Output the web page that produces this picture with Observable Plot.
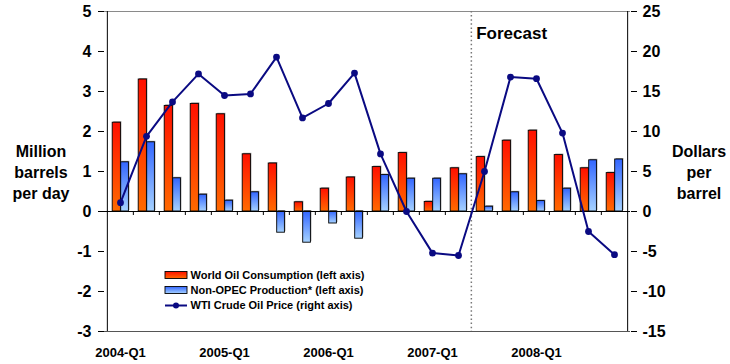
<!DOCTYPE html>
<html>
<head>
<meta charset="utf-8">
<script src="https://cdn.jsdelivr.net/npm/d3@7"></script>
<script src="https://cdn.jsdelivr.net/npm/@observablehq/plot@0.6"></script>
<style>
  body { margin: 0; background: #fff; }
  svg { display: block; }
</style>
</head>
<body>
<div id="chart"></div>
<script>
// Quarterly changes, 2004-Q1 .. 2008-Q4
const quarters = [
  "2004-Q1","2004-Q2","2004-Q3","2004-Q4",
  "2005-Q1","2005-Q2","2005-Q3","2005-Q4",
  "2006-Q1","2006-Q2","2006-Q3","2006-Q4",
  "2007-Q1","2007-Q2","2007-Q3","2007-Q4",
  "2008-Q1","2008-Q2","2008-Q3","2008-Q4"
];
// Million barrels per day (left axis)
const consumption = [2.22, 3.30, 2.64, 2.69, 2.43, 1.43, 1.20, 0.23, 0.57, 0.85,
                     1.11, 1.46, 0.24, 1.08, 1.36, 1.77, 2.02, 1.41, 1.08, 0.96];
const nonOpec     = [1.23, 1.73, 0.83, 0.42, 0.27, 0.48, -0.53, -0.78, -0.30, -0.68,
                     0.91, 0.82, 0.82, 0.93, 0.12, 0.48, 0.26, 0.57, 1.28, 1.30];
// Dollars per barrel (right axis)
const wtiPrice    = [1.1, 9.4, 13.7, 17.2, 14.5, 14.7, 19.3, 11.7, 13.5, 17.3,
                     7.2, 0.0, -5.2, -5.5, 5.0, 16.8, 16.6, 9.8, -2.5, -5.4];

const leftTicks  = [-3, -2, -1, 0, 1, 2, 3, 4, 5];
const rightTicks = [-15, -10, -5, 0, 5, 10, 15, 20, 25];
const xTickLabels = ["2004-Q1", "2005-Q1", "2006-Q1", "2007-Q1", "2008-Q1"];
const forecastStart = "2007-Q3";
const priceScale = 5; // dollars per left-axis unit

const legendItems = [
  "World Oil Consumption (left axis)",
  "Non-OPEC Production* (left axis)",
  "WTI Crude Oil Price (right axis)"
];

const rows = quarters.map((q, i) => ({
  q, cons: consumption[i], nonOpec: nonOpec[i], price: wtiPrice[i]
}));

const W = 730, H = 364;
const mL = 104, mR = 100, mT = 11, mB = 33;
const bw = (W - mL - mR) / quarters.length;
const half = bw / 2;
const FONT = "'Liberation Sans', Arial, Helvetica, sans-serif";
const NAVY = "#0a0a82";

const chart = Plot.plot({
  width: W,
  height: H,
  marginLeft: mL,
  marginRight: mR,
  marginTop: mT,
  marginBottom: mB,
  style: { fontFamily: FONT, fontWeight: "bold", color: "#000", background: "#fff" },
  x: { type: "band", domain: quarters, padding: 0, axis: null },
  y: { domain: [-3, 5], axis: null },
  marks: [
    // frame lines
    Plot.ruleY([5], { stroke: "#8a8a8a" }),
    Plot.ruleY([-3], { stroke: "#555" }),
    Plot.ruleX([forecastStart], { dx: -half, stroke: "#777", strokeWidth: 1.5, strokeDasharray: "1.5 2.6" }),
    // bar shadows
    Plot.barY(rows, { x: "q", y1: 0, y2: "cons", insetLeft: 5.2, insetRight: 12.6, fill: "#9a9a9a", dx: 1, dy: -1 }),
    Plot.barY(rows, { x: "q", y1: 0, y2: "nonOpec", insetLeft: 13.7, insetRight: 4.6, fill: "#9a9a9a", dx: 1, dy: -1 }),
    // bars
    Plot.barY(rows, { x: "q", y1: 0, y2: "cons", insetLeft: 5.2, insetRight: 12.6,
      fill: "url(#gradRed)", stroke: "#000", strokeWidth: 0.9 }),
    Plot.barY(rows, { x: "q", y1: 0, y2: "nonOpec", insetLeft: 13.7, insetRight: 4.6,
      fill: "url(#gradBlue)", stroke: "#000", strokeWidth: 0.9 }),
    // zero line with quarter separators
    Plot.ruleY([0], { stroke: "#000" }),
    Plot.ruleX(quarters.slice(1), { x: d => d, y1: 0, y2: -0.1, dx: -half, stroke: "#000" }),
    // left and right axis lines
    Plot.ruleX([quarters[0]], { dx: -half, stroke: "#000" }),
    Plot.ruleX([quarters[quarters.length - 1]], { dx: half, stroke: "#000" }),
    // price line
    Plot.line(rows, { x: "q", y: d => d.price / priceScale, stroke: NAVY, strokeWidth: 2 }),
    Plot.dot(rows, { x: "q", y: d => d.price / priceScale, r: 3.4, fill: NAVY, stroke: "none" }),
    // axes
    Plot.axisY({ anchor: "left", ticks: leftTicks, tickFormat: d => String(d),
      tickSize: 6, tickPadding: 7, fontSize: 16, label: null }),
    Plot.axisY({ anchor: "right", ticks: rightTicks.map(d => d / priceScale),
      tickFormat: d => String(Math.round(d * priceScale)), tickSize: 6, tickPadding: 6, fontSize: 16, label: null }),
    Plot.axisX({ ticks: xTickLabels, tickSize: 0, tickPadding: 16, fontSize: 13, label: null }),
    // forecast annotation
    Plot.text(["Forecast"], { x: () => forecastStart, frameAnchor: "top", dx: -8.3, dy: 22,
      textAnchor: "start", lineAnchor: "middle", fontSize: 17, fontWeight: "bold", fill: "#000" })
  ]
});

const svg = d3.select(chart);

// bar gradients
const defs = svg.insert("defs", ":first-child");
function gradient(id, top, bottom) {
  const g = defs.append("linearGradient").attr("id", id)
    .attr("x1", 0).attr("y1", 0).attr("x2", 0).attr("y2", 1);
  g.append("stop").attr("offset", "0%").attr("stop-color", top);
  g.append("stop").attr("offset", "100%").attr("stop-color", bottom);
}
gradient("gradRed", "#ff1000", "#ff6a00");
gradient("gradBlue", "#3366ff", "#a6d2ff");

// axis titles
function titleLines(x, ys, lines) {
  const t = svg.append("text")
    .attr("text-anchor", "middle")
    .attr("font-family", FONT)
    .attr("font-weight", "bold")
    .attr("font-size", 16)
    .attr("fill", "#000");
  lines.forEach((s, i) => t.append("tspan").attr("x", x).attr("y", ys[i]).attr("dy", "0.35em").text(s));
}
titleLines(41, [151, 172, 193], ["Million", "barrels", "per day"]);
titleLines(699, [151, 172, 193], ["Dollars", "per", "barrel"]);

// legend
const lg = svg.append("g")
  .attr("font-family", FONT).attr("font-weight", "bold").attr("font-size", 11)
  .attr("text-anchor", "start");
const legendY = [275, 290, 305.5];
lg.append("rect").attr("x", 165).attr("y", legendY[0] - 3.5).attr("width", 22).attr("height", 7)
  .attr("fill", "url(#gradRed)").attr("stroke", "#000").attr("stroke-width", 0.9);
lg.append("rect").attr("x", 165).attr("y", legendY[1] - 3.5).attr("width", 22).attr("height", 7)
  .attr("fill", "url(#gradBlue)").attr("stroke", "#000").attr("stroke-width", 0.9);
lg.append("line").attr("x1", 165).attr("x2", 187).attr("y1", legendY[2]).attr("y2", legendY[2])
  .attr("stroke", NAVY).attr("stroke-width", 2);
lg.append("circle").attr("cx", 176).attr("cy", legendY[2]).attr("r", 3).attr("fill", NAVY);
legendItems.forEach((s, i) => {
  lg.append("text").attr("x", 190.5).attr("y", legendY[i]).attr("dy", "0.35em")
    .attr("text-anchor", "start").attr("fill", "#000").text(s);
});

document.getElementById("chart").appendChild(chart);
</script>
</body>
</html>
